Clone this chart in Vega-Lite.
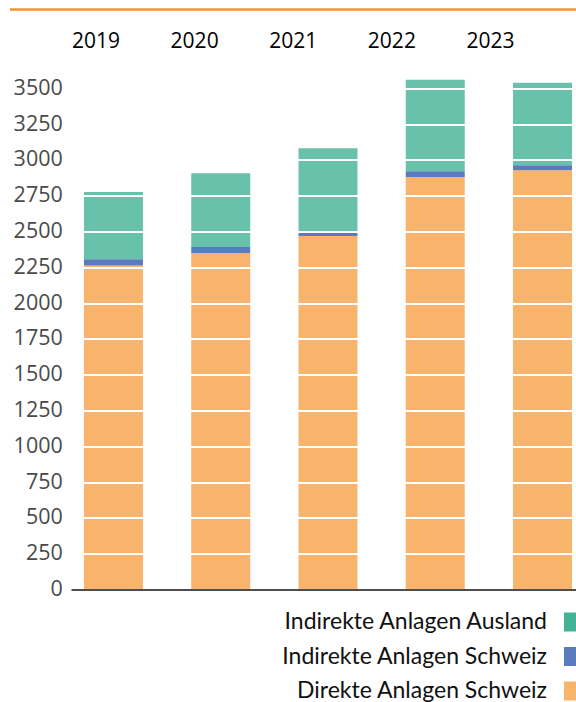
{
  "$schema": "https://vega.github.io/schema/vega-lite/v6.json",
  "autosize": {"type": "none"},
  "padding": {"left": 71, "top": 9.5, "right": 0, "bottom": 112.5},
  "width": 505,
  "height": 580,
  "background": "white",
  "config": {"view": {"stroke": null}, "font": "Open Sans"},
  "data": {
    "values": [
      {"year": "2019", "cat": "Direkte Anlagen Schweiz", "k": 1, "value": 2263},
      {"year": "2019", "cat": "Indirekte Anlagen Schweiz", "k": 2, "value": 43},
      {"year": "2019", "cat": "Indirekte Anlagen Ausland", "k": 3, "value": 470},
      {"year": "2020", "cat": "Direkte Anlagen Schweiz", "k": 1, "value": 2349},
      {"year": "2020", "cat": "Indirekte Anlagen Schweiz", "k": 2, "value": 42},
      {"year": "2020", "cat": "Indirekte Anlagen Ausland", "k": 3, "value": 515},
      {"year": "2021", "cat": "Direkte Anlagen Schweiz", "k": 1, "value": 2469},
      {"year": "2021", "cat": "Indirekte Anlagen Schweiz", "k": 2, "value": 21},
      {"year": "2021", "cat": "Indirekte Anlagen Ausland", "k": 3, "value": 592},
      {"year": "2022", "cat": "Direkte Anlagen Schweiz", "k": 1, "value": 2880},
      {"year": "2022", "cat": "Indirekte Anlagen Schweiz", "k": 2, "value": 40},
      {"year": "2022", "cat": "Indirekte Anlagen Ausland", "k": 3, "value": 639},
      {"year": "2023", "cat": "Direkte Anlagen Schweiz", "k": 1, "value": 2928},
      {"year": "2023", "cat": "Indirekte Anlagen Schweiz", "k": 2, "value": 34},
      {"year": "2023", "cat": "Indirekte Anlagen Ausland", "k": 3, "value": 577}
    ]
  },
  "layer": [
    {
      "mark": {"type": "bar"},
      "encoding": {
        "x": {
          "field": "year", "type": "ordinal",
          "scale": {"paddingInner": 0.45, "paddingOuter": 0.079, "align": 0.765},
          "axis": {"orient": "bottom", "labels": false, "ticks": false, "domain": true, "domainColor": "#4d4d4d", "domainWidth": 2, "title": null, "grid": false, "zindex": 2}
        },
        "y": {
          "field": "value", "type": "quantitative", "stack": "zero",
          "scale": {"domain": [0, 4050], "nice": false},
          "axis": {
            "values": [0, 250, 500, 750, 1000, 1250, 1500, 1750, 2000, 2250, 2500, 2750, 3000, 3250, 3500],
            "format": "d", "title": null, "domain": false, "ticks": false, "grid": true,
            "gridColor": "white", "gridWidth": 2, "labelFont": "Open Sans", "labelFontSize": 21.5,
            "labelColor": "#4a4a4a", "labelPadding": 8.7, "zindex": 1
          }
        },
        "color": {
          "field": "cat", "type": "nominal",
          "scale": {
            "domain": ["Indirekte Anlagen Ausland", "Indirekte Anlagen Schweiz", "Direkte Anlagen Schweiz"],
            "range": ["#42b396", "#5b7bbe", "#f8b36c"]
          },
          "legend": {
            "orient": "none", "legendX": 491, "legendY": 601, "direction": "vertical", "title": null,
            "symbolType": "square", "symbolSize": 361, "symbolStrokeWidth": 0, "symbolOpacity": 1,
            "labelFont": "Lato", "labelFontSize": 23, "labelColor": "#111111", "labelAlign": "right",
            "labelOffset": -38, "rowPadding": 10.5, "labelLimit": 400, "padding": 0
          }
        },
        "order": {"field": "k", "type": "quantitative"},
        "opacity": {"condition": {"test": "datum.cat === 'Indirekte Anlagen Ausland'", "value": 0.8}, "value": 1}
      }
    },
    {
      "mark": {"type": "point", "opacity": 0},
      "encoding": {
        "x": {
          "field": "year", "type": "ordinal",
          "scale": {"type": "point", "range": [24.5, 419], "padding": 0},
          "axis": {"orient": "top", "title": null, "domain": false, "ticks": false, "tickSize": 0, "grid": false,
                   "labelAngle": 0, "labelAlign": "center",
                   "labelFont": "Open Sans", "labelFontSize": 21, "labelColor": "#000000",
                   "labelBaseline": "middle", "labelPadding": -31.5}
        }
      }
    },
    {
      "data": {"values": [{}]},
      "mark": {"type": "rule", "color": "#f2952a", "strokeWidth": 2.5},
      "encoding": {
        "x": {"datum": -0.1208, "type": "quantitative", "scale": {"domain": [0, 1], "nice": false, "zero": false}, "axis": null},
        "x2": {"datum": 1},
        "y": {"datum": 4050, "type": "quantitative"}
      }
    }
  ],
  "resolve": {"scale": {"x": "independent"}, "axis": {"x": "independent"}}
}
